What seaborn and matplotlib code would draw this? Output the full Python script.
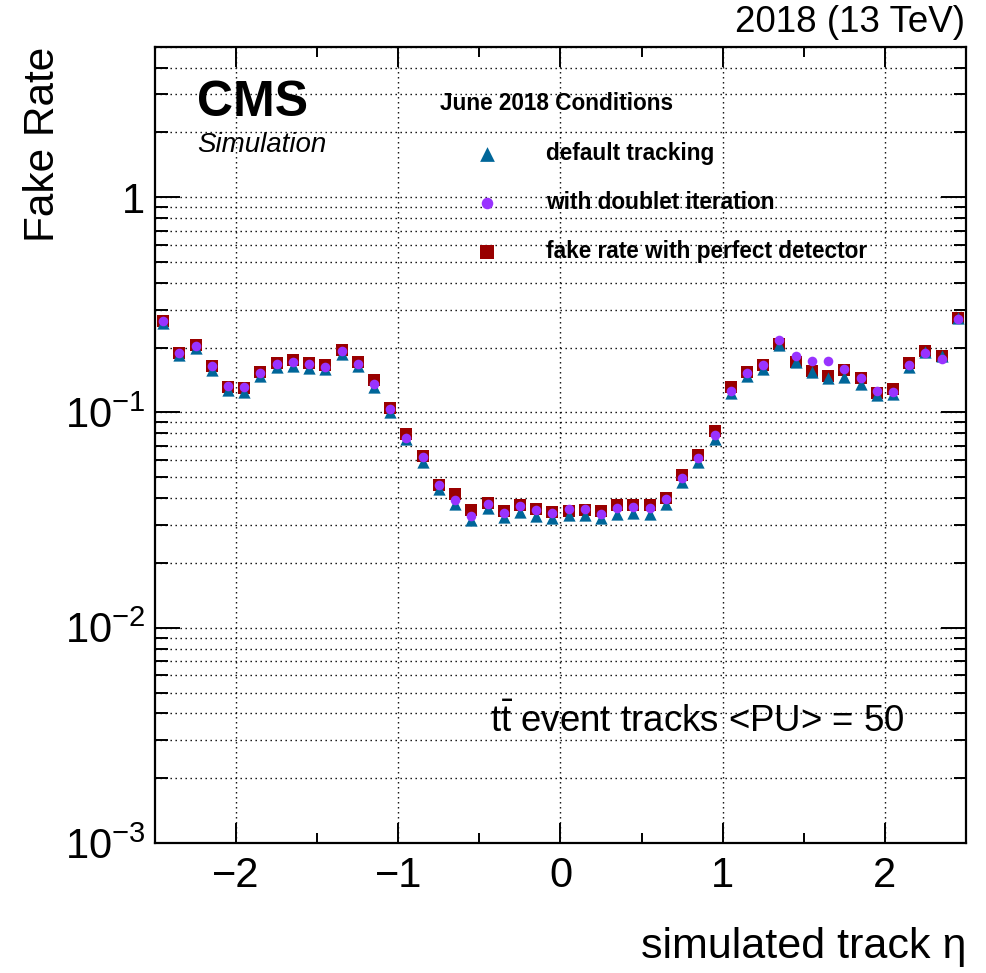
import numpy as np
import pandas as pd
import matplotlib
matplotlib.use("Agg")
import matplotlib.pyplot as plt
from matplotlib.ticker import FixedLocator, LogLocator, NullFormatter, FixedFormatter, MultipleLocator
import seaborn as sns

# Simulated track pseudorapidity bin centres
eta = [-2.45, -2.35, -2.25, -2.15, -2.05, -1.95, -1.85, -1.75, -1.65, -1.55,
       -1.45, -1.35, -1.25, -1.15, -1.05, -0.95, -0.85, -0.75, -0.65, -0.55,
       -0.45, -0.35, -0.25, -0.15, -0.05, 0.05, 0.15, 0.25, 0.35, 0.45,
       0.55, 0.65, 0.75, 0.85, 0.95, 1.05, 1.15, 1.25, 1.35, 1.45,
       1.55, 1.65, 1.75, 1.85, 1.95, 2.05, 2.15, 2.25, 2.35, 2.45]

# Fake rate, default tracking
fake_default = [0.260, 0.184, 0.199, 0.158, 0.127, 0.124, 0.147, 0.162, 0.165, 0.161,
                0.159, 0.186, 0.164, 0.131, 0.101, 0.075, 0.059, 0.044, 0.0375, 0.0316,
                0.036, 0.0328, 0.0345, 0.033, 0.0322, 0.0335, 0.0335, 0.0322, 0.0339, 0.0342,
                0.0336, 0.0374, 0.0475, 0.059, 0.075, 0.123, 0.147, 0.160, 0.205, 0.172,
                0.154, 0.145, 0.146, 0.136, 0.120, 0.122, 0.163, 0.190, 0.183, 0.275]

# Fake rate, with doublet iteration
fake_doublet = [0.265, 0.188, 0.203, 0.164, 0.132, 0.131, 0.153, 0.168, 0.172, 0.168,
                0.162, 0.192, 0.168, 0.135, 0.104, 0.076, 0.0618, 0.046, 0.039, 0.033,
                0.0375, 0.0342, 0.0368, 0.0352, 0.0342, 0.0356, 0.0355, 0.0339, 0.0361, 0.0364,
                0.0359, 0.0398, 0.0494, 0.0612, 0.0785, 0.1256, 0.152, 0.166, 0.217, 0.183,
                0.174, 0.173, 0.159, 0.145, 0.1256, 0.125, 0.166, 0.189, 0.178, 0.273]

# Fake rate with a perfect detector
fake_perfect = [0.265, 0.188, 0.205, 0.165, 0.131, 0.130, 0.154, 0.170, 0.176, 0.170,
                0.167, 0.194, 0.172, 0.141, 0.105, 0.079, 0.063, 0.046, 0.0417, 0.0354,
                0.038, 0.0348, 0.037, 0.0357, 0.0346, 0.0350, 0.0352, 0.0348, 0.0373, 0.0373,
                0.037, 0.0402, 0.0512, 0.0636, 0.0816, 0.1307, 0.154, 0.167, 0.207, 0.172,
                0.156, 0.147, 0.157, 0.144, 0.123, 0.128, 0.169, 0.193, 0.183, 0.275]

series_labels = ["default tracking", "with doublet iteration", "fake rate with perfect detector"]
legend_title = "June 2018 Conditions"
y_ticks = [1e-3, 1e-2, 1e-1, 1]
y_tick_labels = [r"$\mathregular{10^{-3}}$", r"$\mathregular{10^{-2}}$", r"$\mathregular{10^{-1}}$", "1"]
x_ticks = [-2, -1, 0, 1, 2]

sns.set_style("white")
plt.rcParams["font.family"] = ["Liberation Sans", "DejaVu Sans"]
plt.rcParams["mathtext.fontset"] = "custom"
plt.rcParams["mathtext.rm"] = "Liberation Sans"
plt.rcParams["mathtext.it"] = "Liberation Sans:italic"
plt.rcParams["mathtext.bf"] = "Liberation Sans:bold"
for key in ["text.color", "axes.labelcolor", "xtick.color", "ytick.color", "axes.edgecolor"]:
    plt.rcParams[key] = "black"

df = pd.DataFrame({"eta": eta, "default": fake_default,
                   "doublet": fake_doublet, "perfect": fake_perfect})

fig = plt.figure(figsize=(9.86, 9.73), dpi=100)
ax = fig.add_axes([0.1572, 0.1336, 0.8225, 0.8184])

c_tri = "#006699"
c_circ = "#9933ff"
c_sq = "#990000"

sns.scatterplot(data=df, x="eta", y="perfect", ax=ax, marker="s", s=70, color=c_sq,
                linewidth=0, label=series_labels[2], zorder=3)
sns.scatterplot(data=df, x="eta", y="default", ax=ax, marker="^", s=78, color=c_tri,
                linewidth=0, label=series_labels[0], zorder=4)
sns.scatterplot(data=df, x="eta", y="doublet", ax=ax, marker="o", s=48, color=c_circ,
                linewidth=0, label=series_labels[1], zorder=5)

ax.set_yscale("log")
ax.set_xlim(-2.5, 2.5)
ax.set_ylim(1e-3, 5)

ax.yaxis.set_major_locator(FixedLocator(y_ticks))
ax.yaxis.set_major_formatter(FixedFormatter(y_tick_labels))
ax.yaxis.set_minor_locator(LogLocator(base=10, subs=np.arange(2, 10)))
ax.yaxis.set_minor_formatter(NullFormatter())
ax.xaxis.set_major_locator(FixedLocator(x_ticks))
ax.xaxis.set_minor_locator(MultipleLocator(0.5))

# dotted grid: every log decade subdivision, major eta ticks only
grid_kw = dict(color="black", linewidth=1.0, linestyle=(0, (1, 2.6)))
ax.yaxis.grid(True, which="both", **grid_kw)
ax.xaxis.grid(True, which="major", **grid_kw)
ax.set_axisbelow(True)

for sp in ax.spines.values():
    sp.set_linewidth(1.6)
    sp.set_color("black")

ax.tick_params(axis="x", which="major", direction="in", length=14.5, width=1.4,
               top=True, bottom=True, labelsize=30, pad=9, colors="black")
ax.tick_params(axis="x", which="minor", direction="in", length=7.5, width=1.4,
               top=True, bottom=True, colors="black")
ax.tick_params(axis="y", which="major", direction="in", length=18, width=1.4,
               left=True, right=True, labelsize=30, pad=7, colors="black")
ax.tick_params(axis="y", which="minor", direction="in", length=9, width=1.4,
               left=True, right=True, colors="black")

ax.set_xlabel("simulated track η", fontsize=31, color="black")
ax.xaxis.set_label_coords(1.0, -0.105)
ax.xaxis.label.set_horizontalalignment("right")
ax.set_ylabel("Fake Rate", fontsize=30.5, loc="top", color="black")
ax.yaxis.set_label_coords(-0.114, 1.0)

handles, labels = ax.get_legend_handles_labels()
order = [labels.index(l) for l in series_labels]
leg = ax.legend([handles[i] for i in order], [labels[i] for i in order],
                title=legend_title, loc="upper left", bbox_to_anchor=(0.337, 0.957),
                frameon=False, borderpad=0, handlelength=4.2, handletextpad=0.5,
                labelspacing=1.16, alignment="left", markerscale=1.2,
                prop={"weight": "bold", "size": 16.3},
                title_fontproperties={"weight": "bold", "size": 16.3})
for t in leg.get_texts():
    t.set_color("black")
leg.get_title().set_color("black")

ax.text(0.0518, 0.929, "CMS", transform=ax.transAxes, fontsize=36,
        fontweight="bold", ha="left", va="center")
ax.text(0.0518, 0.877, "Simulation", transform=ax.transAxes, fontsize=20,
        fontstyle="italic", ha="left", va="center")
ax.text(0.413, 0.152, r"$\mathrm{t\bar{t}}$ event tracks <PU> = 50",
        transform=ax.transAxes, fontsize=26.4, ha="left", va="center")
fig.text(0.9787, 0.977, "2018 (13 TeV)", fontsize=26.5, ha="right", va="center")

fig.savefig("out.png", dpi=100, facecolor="white")
